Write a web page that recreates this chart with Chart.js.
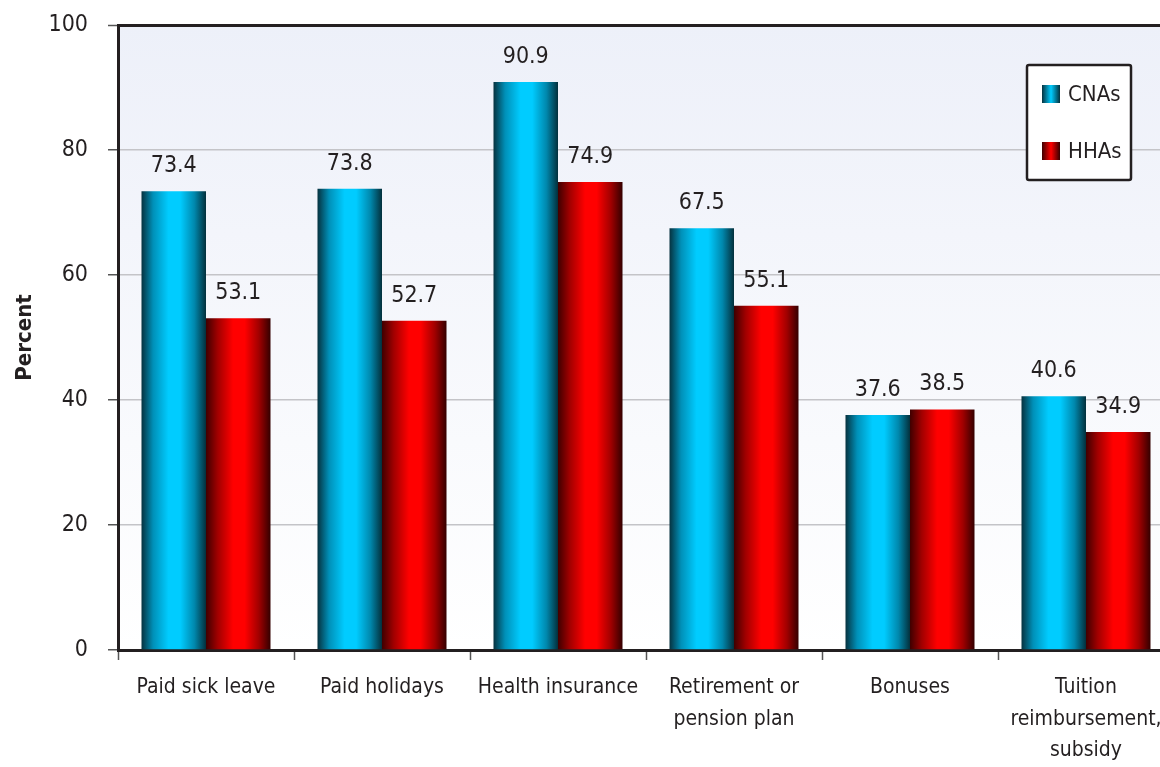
<!DOCTYPE html>
<html>
<head>
<meta charset="utf-8">
<script src="https://cdn.jsdelivr.net/npm/chart.js@4.4.1/dist/chart.umd.min.js"></script>
<style>
    html, body { margin: 0; padding: 0; background: #ffffff; overflow: hidden; }
    #wrap { width: 1160px; height: 767px; overflow: hidden; }
    #box { width: 1180px; height: 767px; position: relative; }
</style>
</head>
<body>
<div id="wrap"><div id="box"><canvas id="benefitsChart"></canvas></div></div>
<script>
const categories = [
    'Paid sick leave',
    'Paid holidays',
    'Health insurance',
    ['Retirement or', 'pension plan'],
    'Bonuses',
    ['Tuition', 'reimbursement,', 'subsidy']
];
const cnaValues = [73.4, 73.8, 90.9, 67.5, 37.6, 40.6];
const hhaValues = [53.1, 52.7, 74.9, 55.1, 38.5, 34.9];
const yTicks = [0, 20, 40, 60, 80, 100];

const FONT = "'Liberation Sans Narrow', 'DejaVu Sans Condensed', 'Arial Narrow', sans-serif";
const INK = '#231f20';
const CAT_PCT = 0.733;

const cyanStops = ['#06323f', '#0090b8', '#00ccff', '#00ccff', '#0088ad', '#03303c'];
const redStops = ['#3f0000', '#a00000', '#ff0000', '#ff0000', '#a00000', '#340000'];

// horizontal "cylinder" shading for each bar, placed with the x scale
function barFill(stops) {
    return function (ctx) {
        const chart = ctx.chart;
        const xs = chart.scales.x;
        if (ctx.type !== 'data' || !xs || !xs.width) return stops[2];
        const n = chart.data.labels.length;
        const barW = xs.width / n * CAT_PCT / 2;
        const center = xs.getPixelForValue(ctx.dataIndex);
        const left = ctx.datasetIndex === 0 ? center - barW : center;
        const g = chart.ctx.createLinearGradient(left, 0, left + barW, 0);
        g.addColorStop(0, stops[0]);
        g.addColorStop(0.18, stops[1]);
        g.addColorStop(0.42, stops[2]);
        g.addColorStop(0.6, stops[3]);
        g.addColorStop(0.82, stops[4]);
        g.addColorStop(1, stops[5]);
        return g;
    };
}

const plotBackground = {
    id: 'plotBackground',
    beforeDraw(chart) {
        const { ctx, chartArea: a } = chart;
        const g = ctx.createLinearGradient(0, a.top, 0, a.bottom);
        g.addColorStop(0, '#edf0f9');
        g.addColorStop(1, '#ffffff');
        ctx.save();
        ctx.fillStyle = g;
        ctx.fillRect(a.left, a.top, a.right - a.left, a.bottom - a.top);
        ctx.restore();
    }
};

const valueLabels = {
    id: 'valueLabels',
    afterDatasetsDraw(chart) {
        const ctx = chart.ctx;
        ctx.save();
        ctx.font = '23px ' + FONT;
        ctx.fillStyle = INK;
        ctx.textAlign = 'center';
        ctx.textBaseline = 'alphabetic';
        chart.data.datasets.forEach((ds, di) => {
            chart.getDatasetMeta(di).data.forEach((bar, i) => {
                ctx.fillText(ds.data[i].toFixed(1), bar.x, bar.y - 19);
            });
        });
        ctx.restore();
    }
};

const boxLegend = {
    id: 'boxLegend',
    afterDraw(chart) {
        const ctx = chart.ctx;
        const x = 1027, y = 65, w = 104, h = 115;
        ctx.save();
        ctx.fillStyle = '#ffffff';
        ctx.strokeStyle = INK;
        ctx.lineWidth = 2.5;
        ctx.beginPath();
        ctx.roundRect(x, y, w, h, 2);
        ctx.fill();
        ctx.stroke();
        ctx.font = '22px ' + FONT;
        ctx.textBaseline = 'middle';
        ctx.textAlign = 'left';
        const rows = [
            { label: chart.data.datasets[0].label, stops: cyanStops, top: 85 },
            { label: chart.data.datasets[1].label, stops: redStops, top: 142 }
        ];
        rows.forEach(r => {
            const g = ctx.createLinearGradient(x + 15, 0, x + 33, 0);
            g.addColorStop(0, r.stops[0]);
            g.addColorStop(0.5, r.stops[2]);
            g.addColorStop(1, r.stops[5]);
            ctx.fillStyle = g;
            ctx.fillRect(x + 15, r.top, 18, 18);
            ctx.fillStyle = INK;
            ctx.fillText(r.label, x + 41, r.top + 10);
        });
        ctx.restore();
    }
};

new Chart(document.getElementById('benefitsChart'), {
    type: 'bar',
    data: {
        labels: categories,
        datasets: [
            {
                label: 'CNAs',
                data: cnaValues,
                backgroundColor: barFill(cyanStops),
                borderWidth: 0,
                categoryPercentage: CAT_PCT,
                barPercentage: 1
            },
            {
                label: 'HHAs',
                data: hhaValues,
                backgroundColor: barFill(redStops),
                borderWidth: 0,
                categoryPercentage: CAT_PCT,
                barPercentage: 1
            }
        ]
    },
    options: {
        responsive: true,
        maintainAspectRatio: false,
        animation: false,
        layout: {
            padding: { top: 25, right: 6, bottom: 0, left: 0 }
        },
        plugins: {
            legend: { display: false },
            tooltip: { enabled: false }
        },
        scales: {
            x: {
                border: { color: INK, width: 3 },
                grid: {
                    offset: true,
                    drawOnChartArea: false,
                    drawTicks: true,
                    tickLength: 10,
                    tickColor: '#555555',
                    tickWidth: 1.5
                },
                ticks: {
                    color: INK,
                    font: { family: FONT, size: 21, lineHeight: 1.5 },
                    padding: 12,
                    maxRotation: 0,
                    autoSkip: false
                },
                afterFit(scale) {
                    scale.height = 117;
                    scale.paddingLeft = 0;
                    scale.paddingRight = 0;
                }
            },
            y: {
                min: 0,
                max: 100,
                afterBuildTicks(scale) {
                    scale.ticks = yTicks.map(v => ({ value: v }));
                },
                border: { color: INK, width: 3 },
                grid: {
                    color: c => (c.tick && c.tick.value === 100 ? INK : '#c4c4c8'),
                    lineWidth: c => (c.tick && c.tick.value === 100 ? 3 : 1.5),
                    tickLength: 10,
                    tickColor: '#555555',
                    tickWidth: 1.5
                },
                ticks: {
                    color: INK,
                    font: { family: FONT, size: 23 },
                    padding: 20
                },
                title: {
                    display: true,
                    text: 'Percent',
                    color: INK,
                    font: { family: FONT, size: 22, weight: 'bold' },
                    padding: { top: 12, bottom: 0 }
                },
                afterFit(scale) {
                    scale.width = 118;
                    scale.paddingTop = 0;
                    scale.paddingBottom = 0;
                }
            }
        }
    },
    plugins: [plotBackground, valueLabels, boxLegend]
});
</script>
</body>
</html>
